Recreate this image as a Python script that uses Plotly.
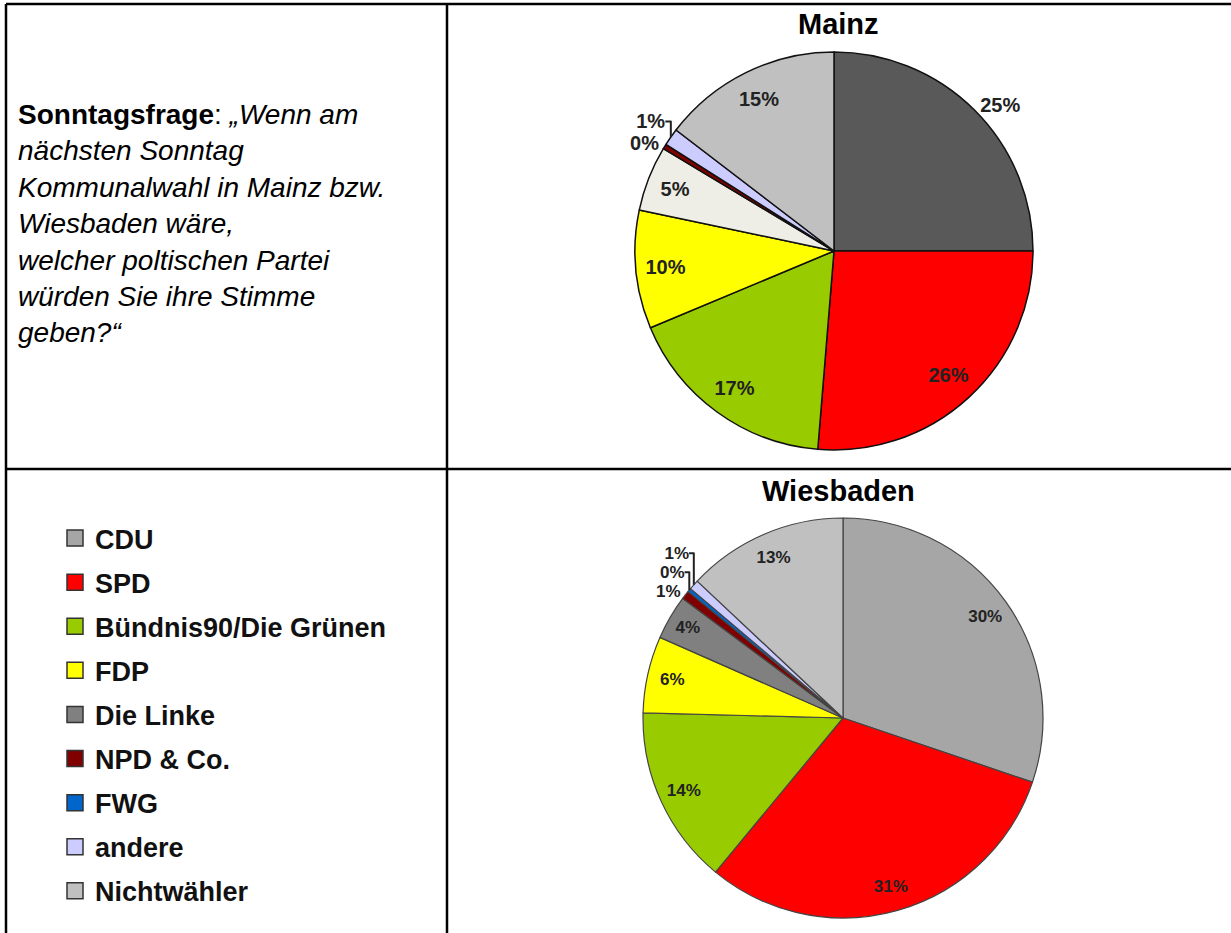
import plotly.graph_objects as go

# ---------------- data ----------------
legend_labels = ["CDU", "SPD", "Bündnis90/Die Grünen", "FDP", "Die Linke",
                 "NPD & Co.", "FWG", "andere", "Nichtwähler"]
legend_colors = ["#A6A6A6", "#FF0000", "#99CC00", "#FFFF00", "#808080",
                 "#800000", "#0066CC", "#CCCCFF", "#C0C0C0"]

mainz_labels = ["CDU", "SPD", "Bündnis90/Die Grünen", "FDP", "Die Linke",
                "NPD & Co.", "andere", "Nichtwähler"]
mainz_values = [25.0, 26.3, 17.4, 9.6, 5.3, 0.4, 1.4, 14.6]
mainz_text = ["25%", "26%", "17%", "10%", "5%", "0%", "1%", "15%"]
mainz_colors = ["#595959", "#FF0000", "#99CC00", "#FFFF00", "#EEEEE6",
                "#800000", "#CCCCFF", "#C0C0C0"]
mainz_textpos = ["outside", "inside", "inside", "inside", "inside",
                 "outside", "outside", "inside"]

wies_labels = ["CDU", "SPD", "Bündnis90/Die Grünen", "FDP", "Die Linke",
               "NPD & Co.", "FWG", "andere", "Nichtwähler"]
wies_values = [30.2, 30.8, 14.4, 6.2, 3.6, 0.7, 0.3, 0.8, 13.0]
wies_text = ["30%", "31%", "14%", "6%", "4%", "1%", "0%", "1%", "13%"]
wies_colors = ["#A6A6A6", "#FF0000", "#99CC00", "#FFFF00", "#808080",
               "#800000", "#0066CC", "#CCCCFF", "#C0C0C0"]
wies_textpos = ["inside", "inside", "inside", "inside", "inside",
                "outside", "outside", "outside", "inside"]

W, H = 1231, 933
FONT = "Liberation Sans, Arial, sans-serif"


def px_x(x):
    return x / W


def px_y(y):
    return 1 - y / H


fig = go.Figure()


def add_pie(labels, values, text, colors, textpos, dom, line_col, line_w,
            font_size, hole):
    # the filled pie
    fig.add_trace(go.Pie(
        labels=labels, values=values, textinfo="none",
        sort=False, direction="clockwise", rotation=0,
        marker=dict(colors=colors, line=dict(color=line_col, width=line_w)),
        showlegend=False, hoverinfo="label+percent", domain=dom,
    ))
    # transparent ring on top that carries the percentage labels
    fig.add_trace(go.Pie(
        labels=labels, values=values, text=text, hole=hole,
        textinfo="text", textposition=textpos,
        insidetextorientation="horizontal",
        sort=False, direction="clockwise", rotation=0,
        marker=dict(colors=["rgba(0,0,0,0)"] * len(values),
                    line=dict(width=0)),
        textfont=dict(family=FONT, size=font_size, color="#222222",
                      weight="bold"),
        showlegend=False, hoverinfo="skip", domain=dom,
    ))


# Mainz pie (center ~ (834,251), r ~ 199)
add_pie(mainz_labels, mainz_values, mainz_text, mainz_colors, mainz_textpos,
        dict(x=[px_x(635), px_x(1033)], y=[px_y(450), px_y(52)]),
        "#111111", 1.5, 20, 0.7)

# Wiesbaden pie (center ~ (843,718), r ~ 200)
add_pie(wies_labels, wies_values, wies_text, wies_colors, wies_textpos,
        dict(x=[px_x(643), px_x(1043)], y=[px_y(918), px_y(518)]),
        "#444444", 1.2, 17, 0.75)

# legend entries
for lab, col in zip(legend_labels, legend_colors):
    fig.add_trace(go.Scatter(
        x=[None], y=[None], mode="markers", name=lab, legendgroup=lab,
        marker=dict(symbol="square", size=16, color=col,
                    line=dict(color="#333333", width=1.5)),
        showlegend=True, hoverinfo="skip",
    ))

shapes = []
line_style = dict(color="black", width=2.5)
# table lines
shapes.append(dict(type="line", xref="paper", yref="paper",
                   x0=px_x(6), x1=1, y0=px_y(4), y1=px_y(4), line=line_style))
shapes.append(dict(type="line", xref="paper", yref="paper",
                   x0=px_x(6), x1=1, y0=px_y(469), y1=px_y(469), line=line_style))
shapes.append(dict(type="line", xref="paper", yref="paper",
                   x0=px_x(6), x1=px_x(6), y0=px_y(4), y1=0, line=line_style))
shapes.append(dict(type="line", xref="paper", yref="paper",
                   x0=px_x(447), x1=px_x(447), y0=px_y(4), y1=0, line=line_style))

question = ("<b>Sonntagsfrage</b>: <i>„Wenn am</i><br>"
            "<i>nächsten Sonntag</i><br>"
            "<i>Kommunalwahl in Mainz bzw.</i><br>"
            "<i>Wiesbaden wäre,</i><br>"
            "<i>welcher poltischen Partei</i><br>"
            "<i>würden Sie ihre Stimme</i><br>"
            "<i>geben?“</i>")

annotations = [
    dict(text=question, x=px_x(16), y=px_y(224), xref="paper", yref="paper",
         xanchor="left", yanchor="middle", align="left", showarrow=False,
         font=dict(family=FONT, size=28, color="black")),
    dict(text="<b>Mainz</b>", x=px_x(838), y=px_y(24), xref="paper", yref="paper",
         xanchor="center", yanchor="middle", showarrow=False,
         font=dict(family=FONT, size=29, color="black")),
    dict(text="<b>Wiesbaden</b>", x=px_x(839), y=px_y(491), xref="paper", yref="paper",
         xanchor="center", yanchor="middle", showarrow=False,
         font=dict(family=FONT, size=29, color="black")),
]

fig.update_layout(
    width=W, height=H,
    margin=dict(l=0, r=0, t=0, b=0),
    paper_bgcolor="white", plot_bgcolor="white",
    xaxis=dict(visible=False), yaxis=dict(visible=False),
    shapes=shapes, annotations=annotations,
    showlegend=True,
    legend=dict(x=px_x(55), y=px_y(514), xanchor="left", yanchor="top",
                font=dict(family=FONT, size=27, color="#111111", weight="bold"),
                tracegroupgap=6, itemsizing="trace", bgcolor="rgba(0,0,0,0)"),
)

fig.write_html("out.html", config={"displayModeBar": False},
               post_script="document.body.style.margin='0';")
